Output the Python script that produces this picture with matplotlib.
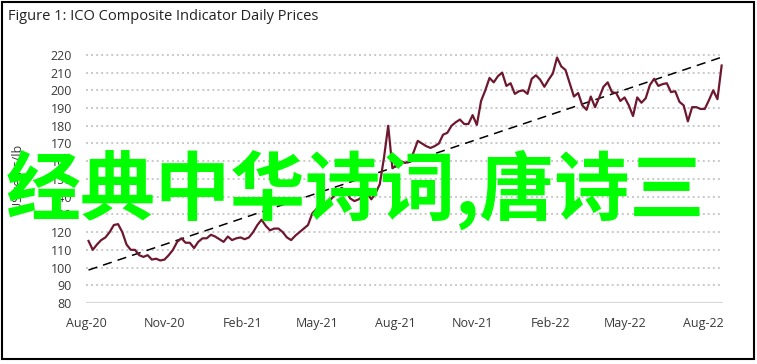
"""ICO composite indicator daily prices, Aug 2020 - Aug 2022."""

import matplotlib

matplotlib.use("Agg")

import matplotlib.dates as mdates
import matplotlib.pyplot as plt
import pandas as pd
from matplotlib.patches import Rectangle

TITLE = "Figure 1: ICO Composite Indicator Daily Prices"
Y_LABEL = "US cents/lb"
WATERMARK = "经典中华诗词,唐诗三"

# prices, one every five days from 3 Aug 2020
START_DATE = "2020-08-03"
STEP = "5D"
prices = [
    115, 110, 113, 115.5, 117, 120, 124, 124.5, 120, 113,
    110, 110, 107, 106, 107, 104.5, 105, 104, 104.5, 107,
    110, 114.5, 116.5, 114, 114, 111, 114.5, 116.5, 116.5, 118.5,
    117.5, 116, 114.5, 117.5, 115.5, 116.5, 117, 116, 117, 120,
    124, 127, 123.5, 121, 122, 122, 120, 117, 115.5, 118,
    120, 122, 124, 130.5, 133, 136, 135, 137.5, 140, 143.5,
    145, 143, 139, 137.5, 138.5, 140, 142, 138.5, 142, 147,
    162, 180, 156, 158, 160, 159, 160, 165, 171.5, 170,
    168.5, 167.5, 168.5, 170, 175, 176, 180, 182, 183.5, 181,
    181, 186, 180.5, 194, 200, 207, 204.5, 208, 210, 202.5,
    204, 198, 199.5, 200, 198, 206.5, 208.5, 206, 202, 206,
    209.5, 218.5, 213.5, 211.5, 204, 196.5, 198.5, 191.5, 189, 196.5,
    190.5, 196, 202, 204.5, 199, 198.5, 194, 196, 191.5, 185.5,
    196, 193, 195.5, 203, 206.5, 202.5, 203.5, 204, 199, 199.5,
    193.5, 191.5, 182.5, 190.5, 190.5, 189.5, 189.5, 194.5, 200, 195,
    214,
]
# linear trend, start and end values
trend = [98.6, 218.7]

y_ticks = list(range(80, 230, 10))
x_ticks = ["2020-08-01", "2020-11-01", "2021-02-01", "2021-05-01", "2021-08-01",
           "2021-11-01", "2022-02-01", "2022-05-01", "2022-08-01"]

LINE_COLOR = "#6e1830"
GRID_COLOR = "#c9c9c9"
TEXT_COLOR = "#3a3a3a"

plt.rcParams["font.family"] = ["Open Sans", "DejaVu Sans"]

dates = pd.date_range(START_DATE, periods=len(prices), freq=STEP)

fig = plt.figure(figsize=(7.57, 3.64), dpi=100)
ax = fig.add_axes([86 / 757, 1 - 303 / 364, (722.5 - 86) / 757, (303 - 54) / 364])

for value in y_ticks[1:]:
    ax.axhline(value, color=GRID_COLOR, lw=1.4, ls=(0, (1, 1.6)), zorder=1)
ax.axhline(y_ticks[0], color="#d9d9d9", lw=1.6, zorder=1)

ax.plot(dates, prices, color=LINE_COLOR, lw=1.6, zorder=3)
ax.plot([dates[0], dates[-1]], trend, color="black", lw=1.1,
        ls=(0, (6, 4)), zorder=2)

ax.set_ylim(80, 220.5)
ax.set_xlim(pd.Timestamp("2020-07-31"), pd.Timestamp("2022-08-24"))
ax.set_yticks(y_ticks)
ax.set_xticks(pd.to_datetime(x_ticks))
ax.xaxis.set_major_formatter(mdates.DateFormatter("%b-%y"))
ax.tick_params(length=0, labelsize=9, colors=TEXT_COLOR)
ax.tick_params(axis="y", pad=10)
ax.tick_params(axis="x", pad=10)
for spine in ax.spines.values():
    spine.set_visible(False)

fig.text(18 / 757, 1 - 178 / 364, Y_LABEL, rotation=90, ha="center",
         va="center", fontsize=9, color=TEXT_COLOR)
fig.text(8 / 757, 1 - 17 / 364, TITLE, ha="left", va="center",
         fontsize=10.5, color="#222222")

fig.patches.append(Rectangle((2 / 757, 5 / 364), 752 / 757, 357 / 364,
                             transform=fig.transFigure, fill=False,
                             edgecolor="black", lw=1.5))

fig.text(6 / 757, 1 - 190 / 364, WATERMARK, ha="left", va="center",
         fontsize=54, fontweight="bold", color="#00ff00",
         family=["Noto Sans CJK SC", "DejaVu Sans"], zorder=10)

fig.savefig("out.png", dpi=100)
